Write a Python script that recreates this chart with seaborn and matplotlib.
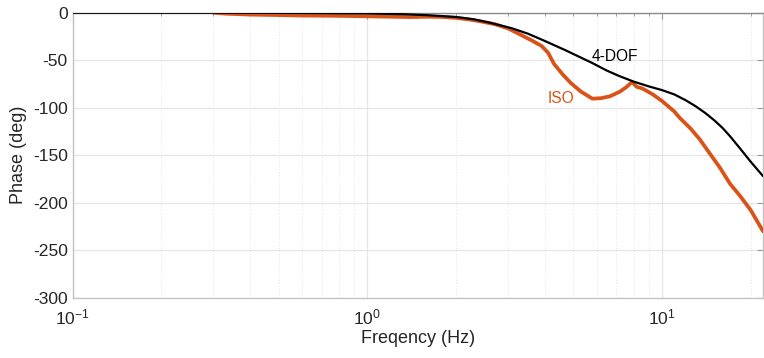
import matplotlib
matplotlib.use("Agg")
import matplotlib.pyplot as plt
import matplotlib.ticker as mticker
import numpy as np
import pandas as pd
import seaborn as sns

# ---- data ----
dof_freq = [0.1, 0.3, 0.5, 0.7, 1.0, 1.3, 1.6, 2.0, 2.3, 2.6, 3.1, 3.5, 3.95,
            4.7, 5.2, 5.8, 6.5, 7.2, 8.0, 9.0, 10.0, 11.0, 12.0, 13.0, 14.0,
            15.0, 16.0, 17.0, 18.4, 20.0, 22.0]
dof_phase = [0, 0, -0.2, -0.4, -0.8, -1.5, -2.6, -4.5, -7, -10.5, -16.5, -22, -29,
             -39.5, -46, -53, -61, -67, -72.5, -77.5, -81.5, -86, -92, -98.5, -105.5,
             -113, -121, -130, -143, -157, -172]

iso_freq = [0.30, 0.33, 0.4, 0.5, 0.6, 0.8, 1.0, 1.2, 1.4, 1.6, 1.8, 2.0, 2.2,
            2.41, 2.7, 3.0, 3.3, 3.6, 3.9, 4.1, 4.3, 4.6, 4.9, 5.3, 5.8, 6.2,
            6.65, 7.2, 7.55, 7.9, 8.2, 8.6, 9.3, 10.0, 11.0, 11.5, 12.5, 13.4,
            14.5, 15.7, 17.0, 18.4, 20.0, 22.0]
iso_phase = [0, -1, -2, -2.5, -3, -3.3, -3.8, -4.2, -4.6, -4.2, -4.5, -5.5, -7,
             -9, -12, -16.5, -23, -29, -35, -42, -54, -65, -74, -83, -90.5, -90,
             -88, -83, -78.5, -73, -78, -80, -86, -93, -104, -111, -122, -133,
             -148, -163, -180, -193, -208, -230]

y_ticks = [0, -50, -100, -150, -200, -250, -300]
x_label = "Freqency (Hz)"
y_label = "Phase (deg)"
labels = ["4-DOF", "ISO"]

# ---- style ----
sns.set_theme(style="white")
plt.rcParams["font.family"] = ["Liberation Sans", "DejaVu Sans"]
plt.rcParams["mathtext.fontset"] = "custom"
plt.rcParams["mathtext.rm"] = "Liberation Sans"
plt.rcParams["mathtext.it"] = "Liberation Sans:italic"
plt.rcParams["axes.unicode_minus"] = False

ORANGE = "#D95319"
TXT = "#262626"

fig = plt.figure(figsize=(7.64, 3.58), dpi=100)
ax = fig.add_axes([0.0952, 0.1684, 0.9035, 0.7961])

df_dof = pd.DataFrame({"f": dof_freq, "p": dof_phase})
df_iso = pd.DataFrame({"f": iso_freq, "p": iso_phase})

sns.lineplot(data=df_iso, x="f", y="p", ax=ax, color=ORANGE, lw=2.7,
             sort=False, estimator=None, zorder=3)
sns.lineplot(data=df_dof, x="f", y="p", ax=ax, color="black", lw=1.6,
             sort=False, estimator=None, zorder=4)

ax.set_xscale("log")
ax.set_xlim(0.1, 22.0)
ax.set_ylim(-300, 0)
ax.set_yticks(y_ticks)

ax.xaxis.set_major_locator(mticker.LogLocator(base=10))
ax.xaxis.set_minor_locator(mticker.LogLocator(base=10, subs=np.arange(2, 10)))
ax.xaxis.set_minor_formatter(mticker.NullFormatter())

ax.grid(True, which="major", color="#e6e6e6", lw=0.9, ls="-")
ax.grid(True, which="minor", axis="x", color="#e4e4e4", lw=0.7, ls=(0, (1, 2)))
ax.set_axisbelow(True)

for s in ["left", "bottom", "right"]:
    ax.spines[s].set_visible(True)
    ax.spines[s].set_color("#c4c4c4")
    ax.spines[s].set_linewidth(1.0)
ax.spines["top"].set_visible(True)
ax.spines["top"].set_color("#8a8a8a")
ax.spines["top"].set_linewidth(1.0)

ax.tick_params(which="both", direction="in", top=True, right=True,
               colors="#9a9a9a", labelcolor=TXT, labelsize=12.6)
ax.tick_params(which="major", length=4, width=0.8)
ax.tick_params(which="minor", length=2.5, width=0.7)
ax.tick_params(axis="x", which="major", pad=7)

ax.set_xlabel(x_label, fontsize=13, color=TXT, labelpad=2)
ax.set_ylabel(y_label, fontsize=13, color=TXT, labelpad=4)

ax.text(6.9, -46, labels[0], color="black", fontsize=11.2,
        ha="center", va="center", zorder=5)
ax.text(4.54, -90, labels[1], color=ORANGE, fontsize=11.2,
        ha="center", va="center", zorder=5)

fig.savefig("out.png", dpi=100)
